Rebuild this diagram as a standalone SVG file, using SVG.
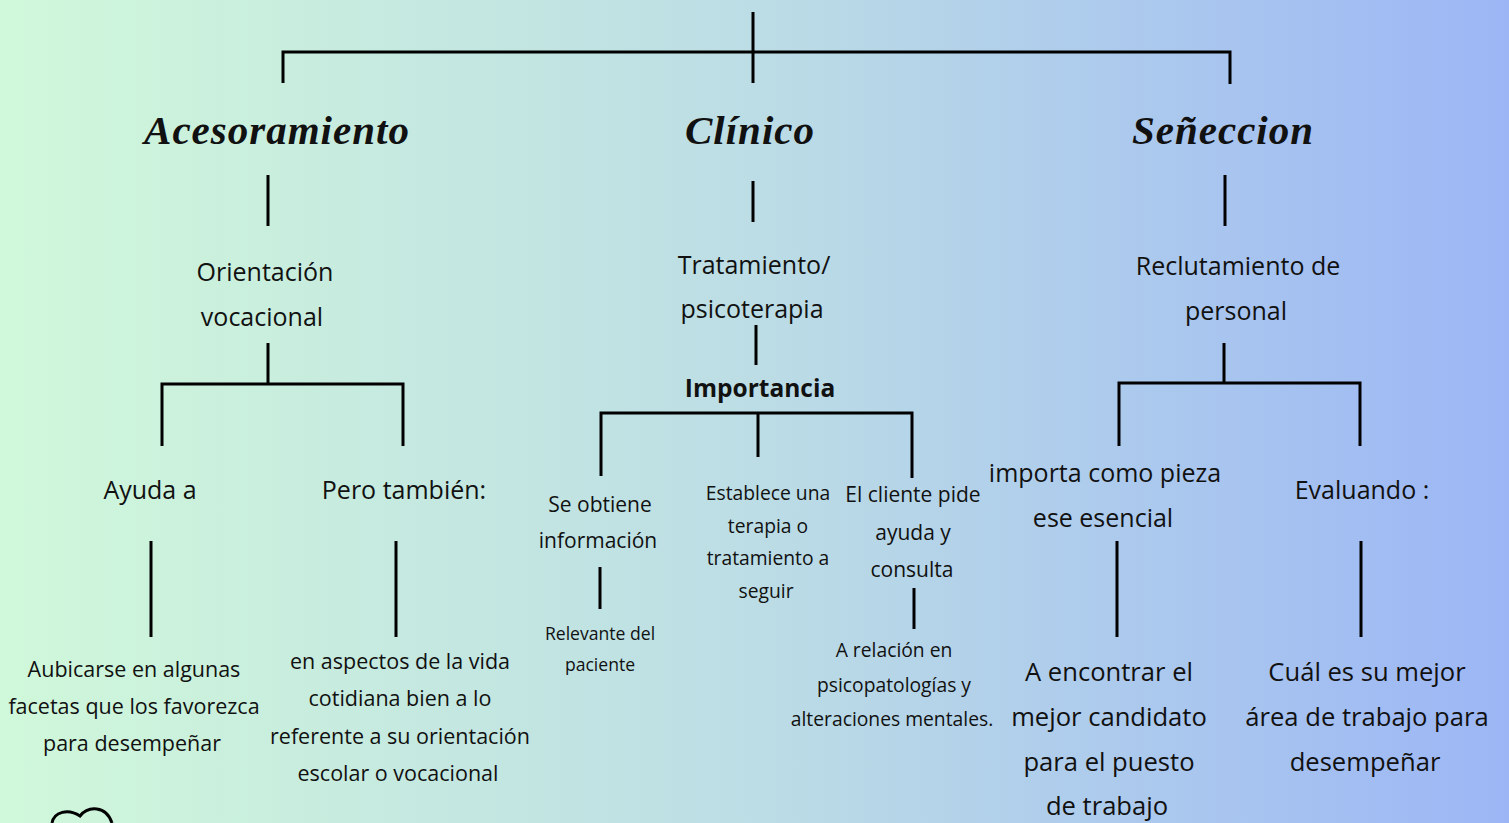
<svg xmlns="http://www.w3.org/2000/svg" width="1509" height="823" viewBox="0 0 1509 823">
<defs>
<linearGradient id="bg" x1="0" y1="0" x2="1" y2="0">
<stop offset="0" stop-color="#d0f8da"/>
<stop offset="0.5" stop-color="#bcdde5"/>
<stop offset="1" stop-color="#9cb6f5"/>
</linearGradient>
<style>
.ln{stroke:#000;stroke-width:3;fill:none;stroke-linecap:butt}
.t{font-family:"Liberation Serif",serif;font-style:italic;font-weight:bold;font-size:41px;letter-spacing:1px;fill:#111;text-anchor:middle}
.m{font-family:"Open Sans","Lato",sans-serif;font-size:25px;fill:#111;text-anchor:middle}
.s{font-family:"Open Sans","Lato",sans-serif;font-size:21px;fill:#111;text-anchor:middle}
.sl{font-family:"Open Sans","Lato",sans-serif;font-size:21.5px;fill:#111;text-anchor:middle}
.xs{font-family:"Open Sans","Lato",sans-serif;font-size:19.3px;fill:#111;text-anchor:middle}
.r{font-family:"Open Sans","Lato",sans-serif;font-size:17.6px;fill:#111;text-anchor:middle}
.l{font-family:"Open Sans","Lato",sans-serif;font-size:25.6px;fill:#111;text-anchor:middle}
.b{font-family:"Open Sans","Lato",sans-serif;font-size:24.5px;font-weight:bold;fill:#111;text-anchor:middle}
</style>
</defs>
<rect width="1509" height="823" fill="url(#bg)"/>
<g id="connectors">
<path class="ln" d="M753,12V83M283,83V52H1230V84"/>
<path class="ln" d="M268,175V226M753,181V222M1225,175V226"/>
<path class="ln" d="M268,343V384M162,446V384H403V446"/>
<path class="ln" d="M151,541V637M396,541V637"/>
<path class="ln" d="M756,325V365M601,476V413H912V478M758,413V457"/>
<path class="ln" d="M600,567V609M914,588V629"/>
<path class="ln" d="M1224,343V383M1119,446V383H1360V446"/>
<path class="ln" d="M1117,541V637M1361,541V637"/>
</g>
<g id="n-acesoramiento"><text class="t" x="277" y="144">Acesoramiento</text></g>
<g id="n-clinico"><text class="t" x="750" y="144">Clínico</text></g>
<g id="n-seneccion"><text class="t" x="1223" y="144">Señeccion</text></g>
<g id="n-orientacion"><text class="m" x="265" y="281">Orientación</text><text class="m" x="262" y="326">vocacional</text></g>
<g id="n-tratamiento"><text class="m" x="754" y="274">Tratamiento/</text><text class="m" x="752" y="318">psicoterapia</text></g>
<g id="n-reclutamiento"><text class="m" x="1238" y="275">Reclutamiento de</text><text class="m" x="1236" y="320">personal</text></g>
<g id="n-ayuda"><text class="m" x="150" y="499">Ayuda a</text></g>
<g id="n-pero"><text class="m" x="404" y="499">Pero también:</text></g>
<g id="n-aubicarse"><text class="sl" x="134" y="677">Aubicarse en algunas</text><text class="sl" x="134" y="714">facetas que los favorezca</text><text class="sl" x="132" y="751">para desempeñar</text></g>
<g id="n-aspectos"><text class="sl" x="400" y="669">en aspectos de la vida</text><text class="sl" x="400" y="706">cotidiana bien a lo</text><text class="sl" x="400" y="744">referente a su orientación</text><text class="sl" x="398" y="781">escolar o vocacional</text></g>
<g id="n-importancia"><text class="b" x="760" y="397">Importancia</text></g>
<g id="n-obtiene"><text class="s" x="600" y="512">Se obtiene</text><text class="s" x="598" y="548">información</text></g>
<g id="n-relevante"><text class="r" x="600" y="640">Relevante del</text><text class="r" x="600" y="671">paciente</text></g>
<g id="n-establece"><text class="xs" x="768" y="500">Establece una</text><text class="xs" x="768" y="533">terapia o</text><text class="xs" x="768" y="565">tratamiento a</text><text class="xs" x="766" y="598">seguir</text></g>
<g id="n-cliente"><text class="s" x="913" y="502">El cliente pide</text><text class="s" x="913" y="540">ayuda y</text><text class="s" x="912" y="577">consulta</text></g>
<g id="n-relacion"><text class="xs" x="894" y="657">A relación en</text><text class="xs" x="894" y="692">psicopatologías y</text><text class="xs" x="892" y="726">alteraciones mentales.</text></g>
<g id="n-importa"><text class="m" x="1105" y="482">importa como pieza</text><text class="m" x="1103" y="527">ese esencial</text></g>
<g id="n-evaluando"><text class="m" x="1362" y="499">Evaluando :</text></g>
<g id="n-encontrar"><text class="l" x="1109" y="681">A encontrar el</text><text class="l" x="1109" y="726">mejor candidato</text><text class="l" x="1109" y="771">para el puesto</text><text class="l" x="1107" y="815">de trabajo</text></g>
<g id="n-cual"><text class="l" x="1367" y="681">Cuál es su mejor</text><text class="l" x="1367" y="726">área de trabajo para</text><text class="l" x="1365" y="771">desempeñar</text></g>
<path class="ln" d="M52,823C54,812 68,808 80,816C88,806 106,805 112,823"/>
</svg>
